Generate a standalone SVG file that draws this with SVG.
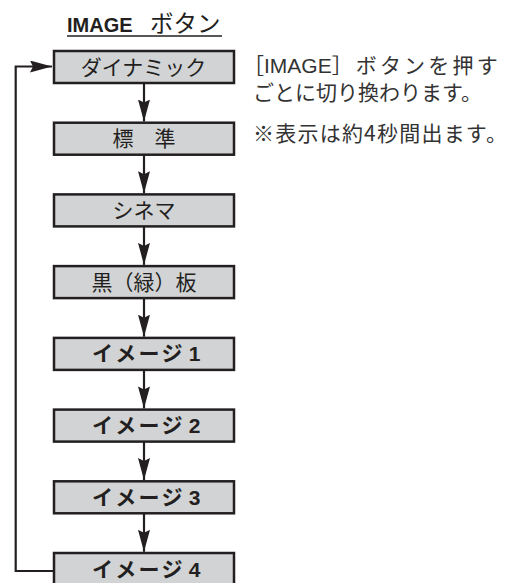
<svg xmlns="http://www.w3.org/2000/svg" width="506" height="583" viewBox="0 0 506 583">
<defs>
<style>
.box{fill:#d2d3d5;stroke:#231f20;stroke-width:2.5}
.lbl{font-family:"Noto Sans CJK JP","Liberation Sans",sans-serif;font-size:21px;fill:#231f20;text-anchor:middle}
.img{font-family:"Noto Sans CJK JP","Liberation Sans",sans-serif;font-size:21px;fill:#231f20;font-weight:bold}
.num{font-family:"Liberation Sans",sans-serif;font-weight:bold}
.line{fill:none;stroke:#231f20;stroke-width:2.2}
.note{font-family:"Noto Sans CJK JP","Liberation Sans",sans-serif;font-size:21px;fill:#333}
</style>
<marker id="ah" viewBox="0 0 22 12" refX="22" refY="6" markerWidth="22" markerHeight="12" markerUnits="userSpaceOnUse" orient="auto">
<path d="M0,0 L22,6 L0,12 L3,6 Z" fill="#231f20"/>
</marker>
</defs>
<g id="title">
<text x="67" y="31.5" font-family="Liberation Sans,sans-serif" font-size="20" font-weight="bold" fill="#231f20">IMAGE</text>
<text x="150" y="31.5" font-family="Noto Sans CJK JP,sans-serif" font-size="23.5" fill="#231f20">ボタン</text>
<line x1="67" y1="36" x2="222" y2="36" stroke="#231f20" stroke-width="1.5"/>
</g>
<g id="note">
<text class="note"><tspan x="243" y="73">［<tspan font-family="Liberation Sans,sans-serif">IMAGE</tspan>］<tspan dx="3" letter-spacing="3.2">ボタンを押す</tspan></tspan><tspan x="253" y="100">ごとに切り換わります。</tspan></text>
<text class="note" x="253" y="141" textLength="254" lengthAdjust="spacing">※表示は約4秒間出ます。</text>
</g>
<g id="connectors">
<line class="line" x1="144" y1="83" x2="144" y2="121.5" marker-end="url(#ah)"/>
<line class="line" x1="144" y1="154.7" x2="144" y2="193.2" marker-end="url(#ah)"/>
<line class="line" x1="144" y1="226.4" x2="144" y2="264.9" marker-end="url(#ah)"/>
<line class="line" x1="144" y1="298.1" x2="144" y2="336.7" marker-end="url(#ah)"/>
<line class="line" x1="144" y1="369.9" x2="144" y2="408.4" marker-end="url(#ah)"/>
<line class="line" x1="144" y1="441.6" x2="144" y2="480.1" marker-end="url(#ah)"/>
<line class="line" x1="144" y1="513.3" x2="144" y2="551.8" marker-end="url(#ah)"/>
<path class="line" d="M53,571 H15.7 V66.5 H52" marker-end="url(#ah)"/>
</g>
<g id="n1"><rect class="box" x="54" y="51" width="180" height="32"/><text class="lbl" x="143.5" y="74.5">ダイナミック</text></g>
<g id="n2"><rect class="box" x="54" y="122.7" width="180" height="32"/><text class="lbl" x="144" y="146.2">標　準</text></g>
<g id="n3"><rect class="box" x="54" y="194.4" width="180" height="32"/><text class="lbl" x="144" y="217.9">シネマ</text></g>
<g id="n4"><rect class="box" x="54" y="266.1" width="180" height="32"/><text class="lbl" x="144" y="289.6">黒（緑）板</text></g>
<g id="n5"><rect class="box" x="54" y="337.9" width="180" height="32"/><text class="img" x="92" y="361.4" letter-spacing="2.3">イメージ<tspan class="num" dx="4">1</tspan></text></g>
<g id="n6"><rect class="box" x="54" y="409.6" width="180" height="32"/><text class="img" x="92" y="433.1" letter-spacing="2.3">イメージ<tspan class="num" dx="4">2</tspan></text></g>
<g id="n7"><rect class="box" x="54" y="481.3" width="180" height="32"/><text class="img" x="92" y="504.8" letter-spacing="2.3">イメージ<tspan class="num" dx="4">3</tspan></text></g>
<g id="n8"><rect class="box" x="54" y="553" width="180" height="32"/><text class="img" x="92" y="576.5" letter-spacing="2.3">イメージ<tspan class="num" dx="4">4</tspan></text></g>
</svg>
